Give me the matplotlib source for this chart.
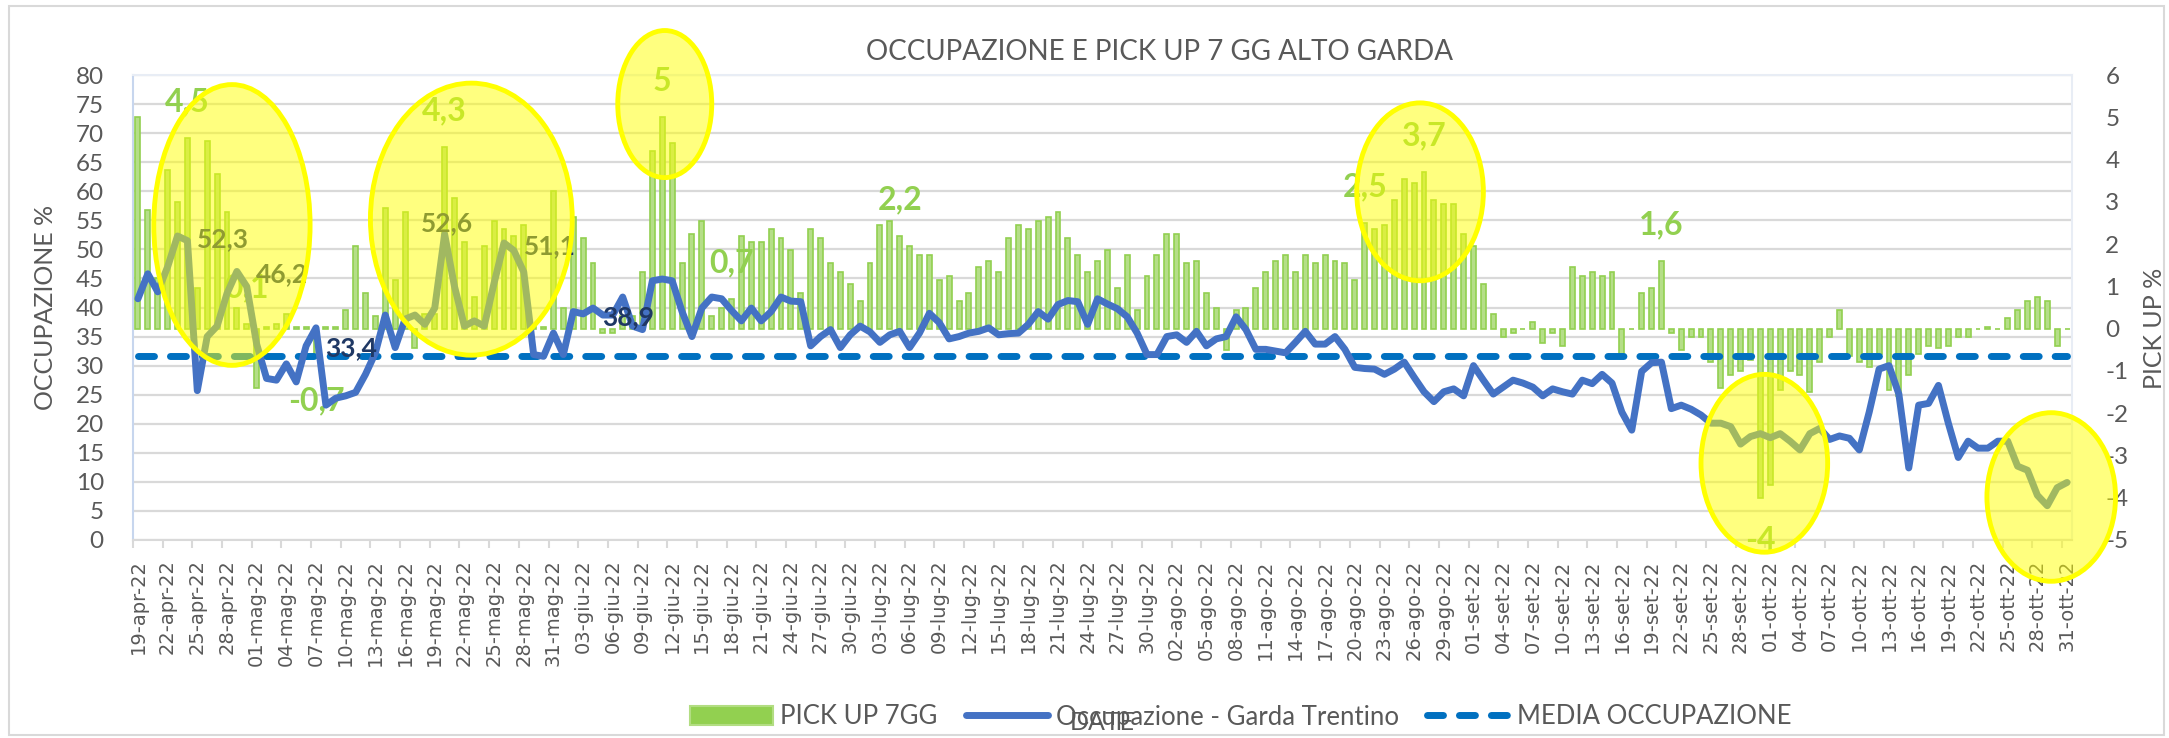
import numpy as np
import pandas as pd
import matplotlib
matplotlib.use("Agg")
import matplotlib.pyplot as plt
from matplotlib.patches import Ellipse, Patch, Rectangle
from matplotlib.lines import Line2D

plt.rcParams['axes.unicode_minus'] = False
plt.rcParams['font.family'] = ['Lato', 'DejaVu Sans']

# ---------------- data ----------------
start_date = "2022-04-19"
end_date = "2022-10-31"
month_abbr = ["gen", "feb", "mar", "apr", "mag", "giu",
              "lug", "ago", "set", "ott", "nov", "dic"]

pickup_7gg = [
    5.0, 2.8, 1.2, 3.75, 3.0, 4.5, 0.95, 4.45, 3.65, 2.75,
    0.5, 0.1, -1.4, 0.05, 0.1, 0.35, 0.05, 0.05, -0.7, 0.05,
    0.05, 0.45, 1.95, 0.85, 0.3, 2.85, 1.15, 2.75, -0.45, 0.35,
    0.35, 4.3, 3.1, 2.05, 0.75, 1.95, 2.55, 2.35, 2.2, 2.45,
    0.05, 0.05, 3.25, 0.5, 2.65, 2.15, 1.55, -0.1, -0.1, 0.3,
    0.3, 1.35, 4.2, 5.0, 4.4, 1.55, 2.25, 2.55, 0.3, 0.5,
    0.7, 2.2, 2.05, 2.05, 2.35, 2.15, 1.85, 0.85, 2.35, 2.15,
    1.55, 1.35, 1.05, 0.65, 1.55, 2.45, 2.55, 2.2, 1.95, 1.75,
    1.75, 1.15, 1.25, 0.65, 0.85, 1.45, 1.6, 1.35, 2.15, 2.45,
    2.35, 2.55, 2.65, 2.75, 2.15, 1.75, 1.35, 1.6, 1.85, 0.95,
    1.75, 0.45, 1.25, 1.75, 2.25, 2.25, 1.55, 1.6, 0.85, 0.5,
    -0.5, 0.45, 0.5, 0.95, 1.35, 1.6, 1.75, 1.35, 1.75, 1.55,
    1.75, 1.6, 1.55, 1.15, 2.5, 2.35, 2.45, 3.05, 3.55, 3.45,
    3.7, 3.05, 2.95, 2.95, 2.25, 1.95, 1.05, 0.35, -0.2, -0.1,
    0.0, 0.15, -0.35, -0.1, -0.4, 1.45, 1.25, 1.35, 1.25, 1.35,
    -0.6, 0.0, 0.85, 0.95, 1.6, -0.1, -0.5, -0.2, -0.2, -0.8,
    -1.4, -1.1, -1.0, -0.75, -4.0, -3.7, -1.45, -1.0, -1.1, -1.5,
    -0.8, -0.2, 0.45, -0.65, -0.8, -0.9, -0.6, -1.45, -1.6, -1.1,
    -0.6, -0.4, -0.45, -0.4, -0.2, -0.2, 0.0, 0.05, 0.0, 0.25,
    0.45, 0.65, 0.75, 0.65, -0.4, 0.0,
]

occupazione = [
    41.5, 45.8, 42.7, 47.0, 52.3, 51.5, 25.7, 35.0, 36.8, 42.4,
    46.2, 43.6, 33.7, 27.8, 27.5, 30.3, 27.2, 33.4, 36.5, 23.2,
    24.4, 24.8, 25.4, 28.5, 32.2, 38.7, 33.1, 38.0, 38.7, 37.1,
    39.9, 52.6, 43.6, 36.8, 37.7, 36.8, 44.2, 51.1, 49.8, 46.1,
    31.9, 31.6, 35.6, 31.9, 39.3, 38.9, 39.9, 38.7, 38.7, 41.8,
    36.8, 36.2, 44.6, 44.9, 44.6, 39.3, 35.0, 39.9, 41.8, 41.5,
    39.5, 37.7, 39.9, 37.7, 39.3, 41.8, 41.1, 41.0, 33.4, 35.0,
    36.2, 33.1, 35.3, 36.8, 35.8, 34.0, 35.3, 35.9, 33.1, 35.6,
    39.0, 37.4, 34.6, 35.0, 35.6, 35.9, 36.5, 35.3, 35.5, 35.6,
    37.1, 39.3, 38.0, 40.5, 41.2, 41.0, 37.1, 41.5, 40.6, 39.8,
    38.4, 35.6, 31.9, 31.9, 35.0, 35.3, 34.0, 35.9, 33.4, 34.6,
    35.0, 38.4, 36.2, 32.8, 32.8, 32.5, 32.2, 34.0, 35.9, 33.7,
    33.7, 35.0, 32.8, 29.7, 29.5, 29.4, 28.5, 29.4, 30.6, 28.0,
    25.5, 23.8, 25.5, 26.0, 24.8, 30.0, 27.5, 25.1, 26.3, 27.5,
    27.0, 26.3, 24.8, 26.0, 25.5, 25.1, 27.5, 26.9, 28.5, 27.0,
    22.0, 18.9, 29.0, 30.5, 30.6, 22.6, 23.2, 22.5, 21.5, 20.1,
    20.1, 19.5, 16.5, 17.8, 18.3, 17.6, 18.3, 17.0, 15.5, 18.3,
    19.2, 17.3, 17.9, 17.5, 15.5, 22.0, 29.4, 30.0, 25.1, 12.4,
    23.2, 23.5, 26.6, 20.1, 14.2, 17.0, 15.8, 15.8, 17.0, 17.0,
    12.7, 12.0, 7.7, 5.9, 9.0, 9.9,
]

media_occupazione = 31.6

# indices of the points that carry a data label
pickup_labelled = [5, 11, 18, 31, 53, 60, 77, 124, 130, 154, 164]
occ_labelled_right = [4, 10, 17, 37, 45]
occ_labelled_above = [31]

title = "OCCUPAZIONE E PICK UP 7 GG ALTO GARDA"
series_names = ["PICK UP 7GG", "Occupazione - Garda Trentino", "MEDIA OCCUPAZIONE"]

# ---------------- derived ----------------
dates = pd.date_range(start_date, end_date, freq="D")
date_labels = [f"{d.day:02d}-{month_abbr[d.month - 1]}-{d.year % 100:02d}" for d in dates]
x = np.arange(len(dates))


def it_fmt(v):
    return f"{v:g}".replace(".", ",")


# ---------------- figure ----------------
W, H, DPI = 2169, 738, 100
fig = plt.figure(figsize=(W / DPI, H / DPI), dpi=DPI)
fig.patch.set_facecolor("white")
L, R, T, B = 133, 2072, 75, 540
rect = [L / W, 1 - B / H, (R - L) / W, (B - T) / H]

ax1 = fig.add_axes(rect)
ax2 = ax1.twinx()
ax3 = fig.add_axes(rect, sharex=ax1, sharey=ax1)
ax1.set_zorder(0)
ax2.set_zorder(1)
ax3.set_zorder(2)
ax2.patch.set_visible(False)
ax3.patch.set_visible(False)
ax3.axis("off")

GRAY = "#595959"

# left axis (occupancy)
ax1.set_xlim(-0.5, len(x) - 0.5)
ax1.set_ylim(0, 80)
ax1.set_yticks(range(0, 81, 5))
ax1.yaxis.grid(True, color="#D9D9D9", linewidth=1.6)
ax1.set_axisbelow(True)
ax1.tick_params(axis="y", length=0, pad=21, labelsize=17.5, labelcolor=GRAY)
for s, c in (("left", "#C7D6EE"), ("bottom", "#D9D9D9"), ("top", "#E8EDF5"), ("right", "#E8EDF5")):
    ax1.spines[s].set_color(c)
    ax1.spines[s].set_linewidth(1.5)

# x ticks: marks every 3 categories (boundaries), labels at categories
ax1.set_xticks(np.arange(-0.5, len(x), 3))
ax1.set_xticklabels([])
ax1.set_xticks(x[::3], labels=[date_labels[i] for i in x[::3]], minor=True)
ax1.tick_params(axis="x", which="major", length=6, width=1.5, color="#D9D9D9", direction="out")
ax1.tick_params(axis="x", which="minor", length=0, pad=14, labelsize=14,
                labelcolor=GRAY, labelfontfamily="DejaVu Sans")
for lab in ax1.get_xticklabels(minor=True):
    lab.set_rotation(90)
    lab.set_ha("center")
    lab.set_va("top")

# right axis (pick up)
ax2.set_ylim(-5, 6)
ax2.set_yticks(range(-5, 7))
ax2.tick_params(axis="y", length=0, pad=24, labelsize=17.5, labelcolor=GRAY)
for s in ax2.spines.values():
    s.set_visible(False)

# bars
ax2.bar(x, pickup_7gg, width=0.5, facecolor="#B5DE88", edgecolor="#92D050",
        linewidth=1.2, zorder=2)

for i in pickup_labelled:
    v = pickup_7gg[i]
    ax2.annotate(it_fmt(v), xy=(i, v), xytext=(0, 26 if v > 0 else -31),
                 textcoords="offset points", ha="center", va="center",
                 color="#92D050", fontsize=23, fontweight="bold", zorder=5)

# occupancy line + mean line
ax3.plot(x, np.full(len(x), media_occupazione), color="#0070C0", lw=5,
         dashes=(2.3, 2.3), dash_capstyle="round", zorder=3)
ax3.plot(x, occupazione, color="#4472C4", lw=5, solid_joinstyle="round",
         solid_capstyle="round", zorder=4)

for i in occ_labelled_right:
    ax3.annotate(it_fmt(occupazione[i]), xy=(i, occupazione[i]), xytext=(14, -2),
                 textcoords="offset points", ha="left", va="center",
                 color="#1F3864", fontsize=19, fontweight="bold", zorder=6)
for i in occ_labelled_above:
    ax3.annotate(it_fmt(occupazione[i]), xy=(i, occupazione[i]), xytext=(2, 8),
                 textcoords="offset points", ha="center", va="center",
                 color="#1F3864", fontsize=19, fontweight="bold", zorder=6)

# yellow highlight ellipses (centre day, centre occupancy, width days, height)
highlights = [
    (9.5, 54.2, 15.8, 48.3),
    (33.7, 55.2, 20.4, 46.8),
    (53.25, 75.0, 9.5, 25.3),
    (129.6, 59.9, 12.8, 30.6),
    (164.4, 13.2, 12.8, 30.6),
    (193.4, 7.4, 13.0, 29.0),
]
for cx, cy, w, h in highlights:
    ax3.add_patch(Ellipse((cx, cy), w, h, facecolor=(1, 1, 0, 0.5),
                          edgecolor="#FFFF00", lw=3.5, zorder=10, clip_on=False))

# titles
fig.text(1160 / W, 1 - 52 / H, title, ha="center", va="center", fontsize=20, color=GRAY)

ax1.set_ylabel("OCCUPAZIONE %", fontsize=18, color=GRAY)
ax1.yaxis.label.set_rotation_mode("default")
ax1.yaxis.label.set_va("center")
ax1.yaxis.label.set_ha("center")
ax1.yaxis.set_label_coords((46 - L) / (R - L), 0.5)

ax2.set_ylabel("PICK UP %", fontsize=18, color=GRAY)
ax2.yaxis.label.set_rotation(90)
ax2.yaxis.label.set_rotation_mode("default")
ax2.yaxis.label.set_va("center")
ax2.yaxis.label.set_ha("center")
ax2.yaxis.set_label_coords((2155 - L) / (R - L), (B - 328) / (B - T))

ax1.set_xlabel("DATE", fontsize=18, color=GRAY)
ax1.xaxis.label.set_va("center")
ax1.xaxis.set_label_coords(0.5, (B - 722) / (B - T))

# legend
handles = [
    Patch(facecolor="#92D050", edgecolor="#B2DD82", linewidth=1.5),
    Line2D([], [], color="#4472C4", lw=5, solid_capstyle="round"),
    Line2D([], [], color="#0070C0", lw=5, dashes=(2.3, 2.3), dash_capstyle="round"),
]
leg = fig.legend(handles, series_names, loc="center", bbox_to_anchor=(1241 / W, 1 - 717 / H),
                 ncol=3, frameon=False, fontsize=18.5, handlelength=3.2, handleheight=0.8,
                 handletextpad=0.3, columnspacing=1.1, labelcolor=GRAY)

# chart border
fig.add_artist(Rectangle((9 / W, 3 / H), (2164 - 9) / W, (732 - 3) / H, transform=fig.transFigure,
                         fill=False, edgecolor="#D9D9D9", lw=1.5))

fig.savefig("out.png", dpi=DPI)
